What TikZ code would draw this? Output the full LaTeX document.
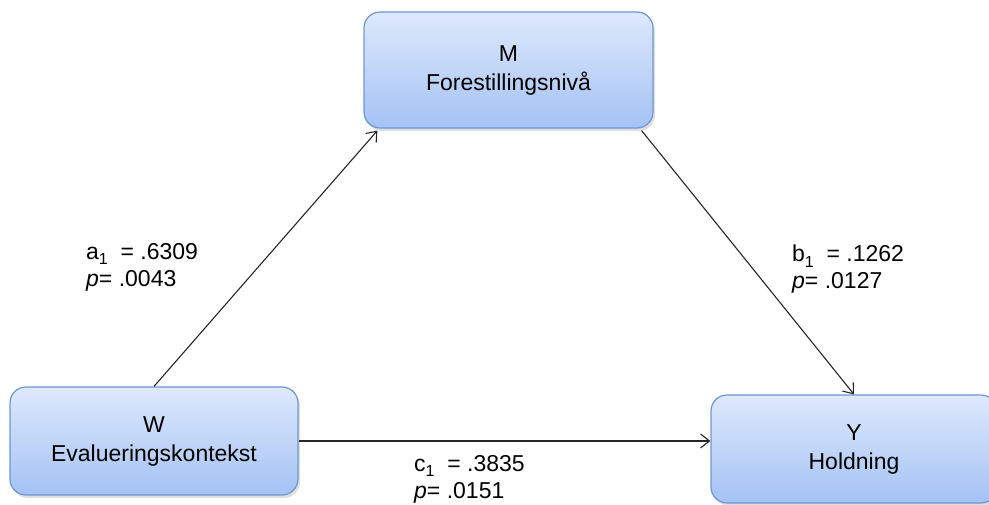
\documentclass[tikz,border=0pt]{standalone}
\usepackage{fontspec}
\setmainfont{Liberation Sans}
\usepackage{xcolor}
\usetikzlibrary{shapes,arrows.meta,positioning,calc,shadows}
\definecolor{boxtop}{RGB}{222, 233, 252}
\definecolor{boxbottom}{RGB}{164, 194, 244}
\definecolor{boxline}{RGB}{112, 151, 208}
\newcommand{\lowidx}[1]{\raisebox{-0.25em}{\fontsize{16}{16}\selectfont #1}}

\begin{document}
\begin{tikzpicture}[
    x=1pt, y=-1pt,
    every node/.style={align=center, font=\fontsize{23}{29}\selectfont},
    varbox/.style={rectangle, rounded corners=16pt, minimum width=288pt, minimum height=108pt, text centered, draw=boxline, line width=1.2pt, top color=boxtop, bottom color=boxbottom, drop shadow={shadow xshift=2pt, shadow yshift=-3pt, opacity=0.25}},
    coef/.style={align=left, anchor=west, inner sep=0pt, font=\fontsize{23}{27}\selectfont},
    arrow/.style={line width=1.1pt, draw=black!85, -{Straight Barb[length=9pt,width=14pt]}}
]
\clip (0,0) rectangle (989,505);

% Variables
\node[varbox, minimum width=289pt, minimum height=116pt] (M) at (508.5,70) {M\\Forestillingsnivå};
\node[varbox] (W) at (154,441) {W\\Evalueringskontekst};
\node[varbox, minimum width=286pt] (Y) at (854,449) {Y\\Holdning};

% Coefficients
\node[coef] (la) at (86,267) {a\lowidx{1}~ = .6309\\\textit{p}= .0043};
\node[coef] (lb) at (792,269) {b\lowidx{1}~ = .1262\\\textit{p}= .0127};
\node[coef] (lc) at (414,479) {c\lowidx{1}~ = .3835\\\textit{p}= .0151};

% Connections
\draw[arrow] (W.north) -- ($(M.south west)+(14,2)$);
\draw[arrow] ($(M.south east)+(-12,2)$) -- (Y.north);
\draw[arrow] (W.east) -- (W.east -| Y.west);

\end{tikzpicture}
\end{document}
